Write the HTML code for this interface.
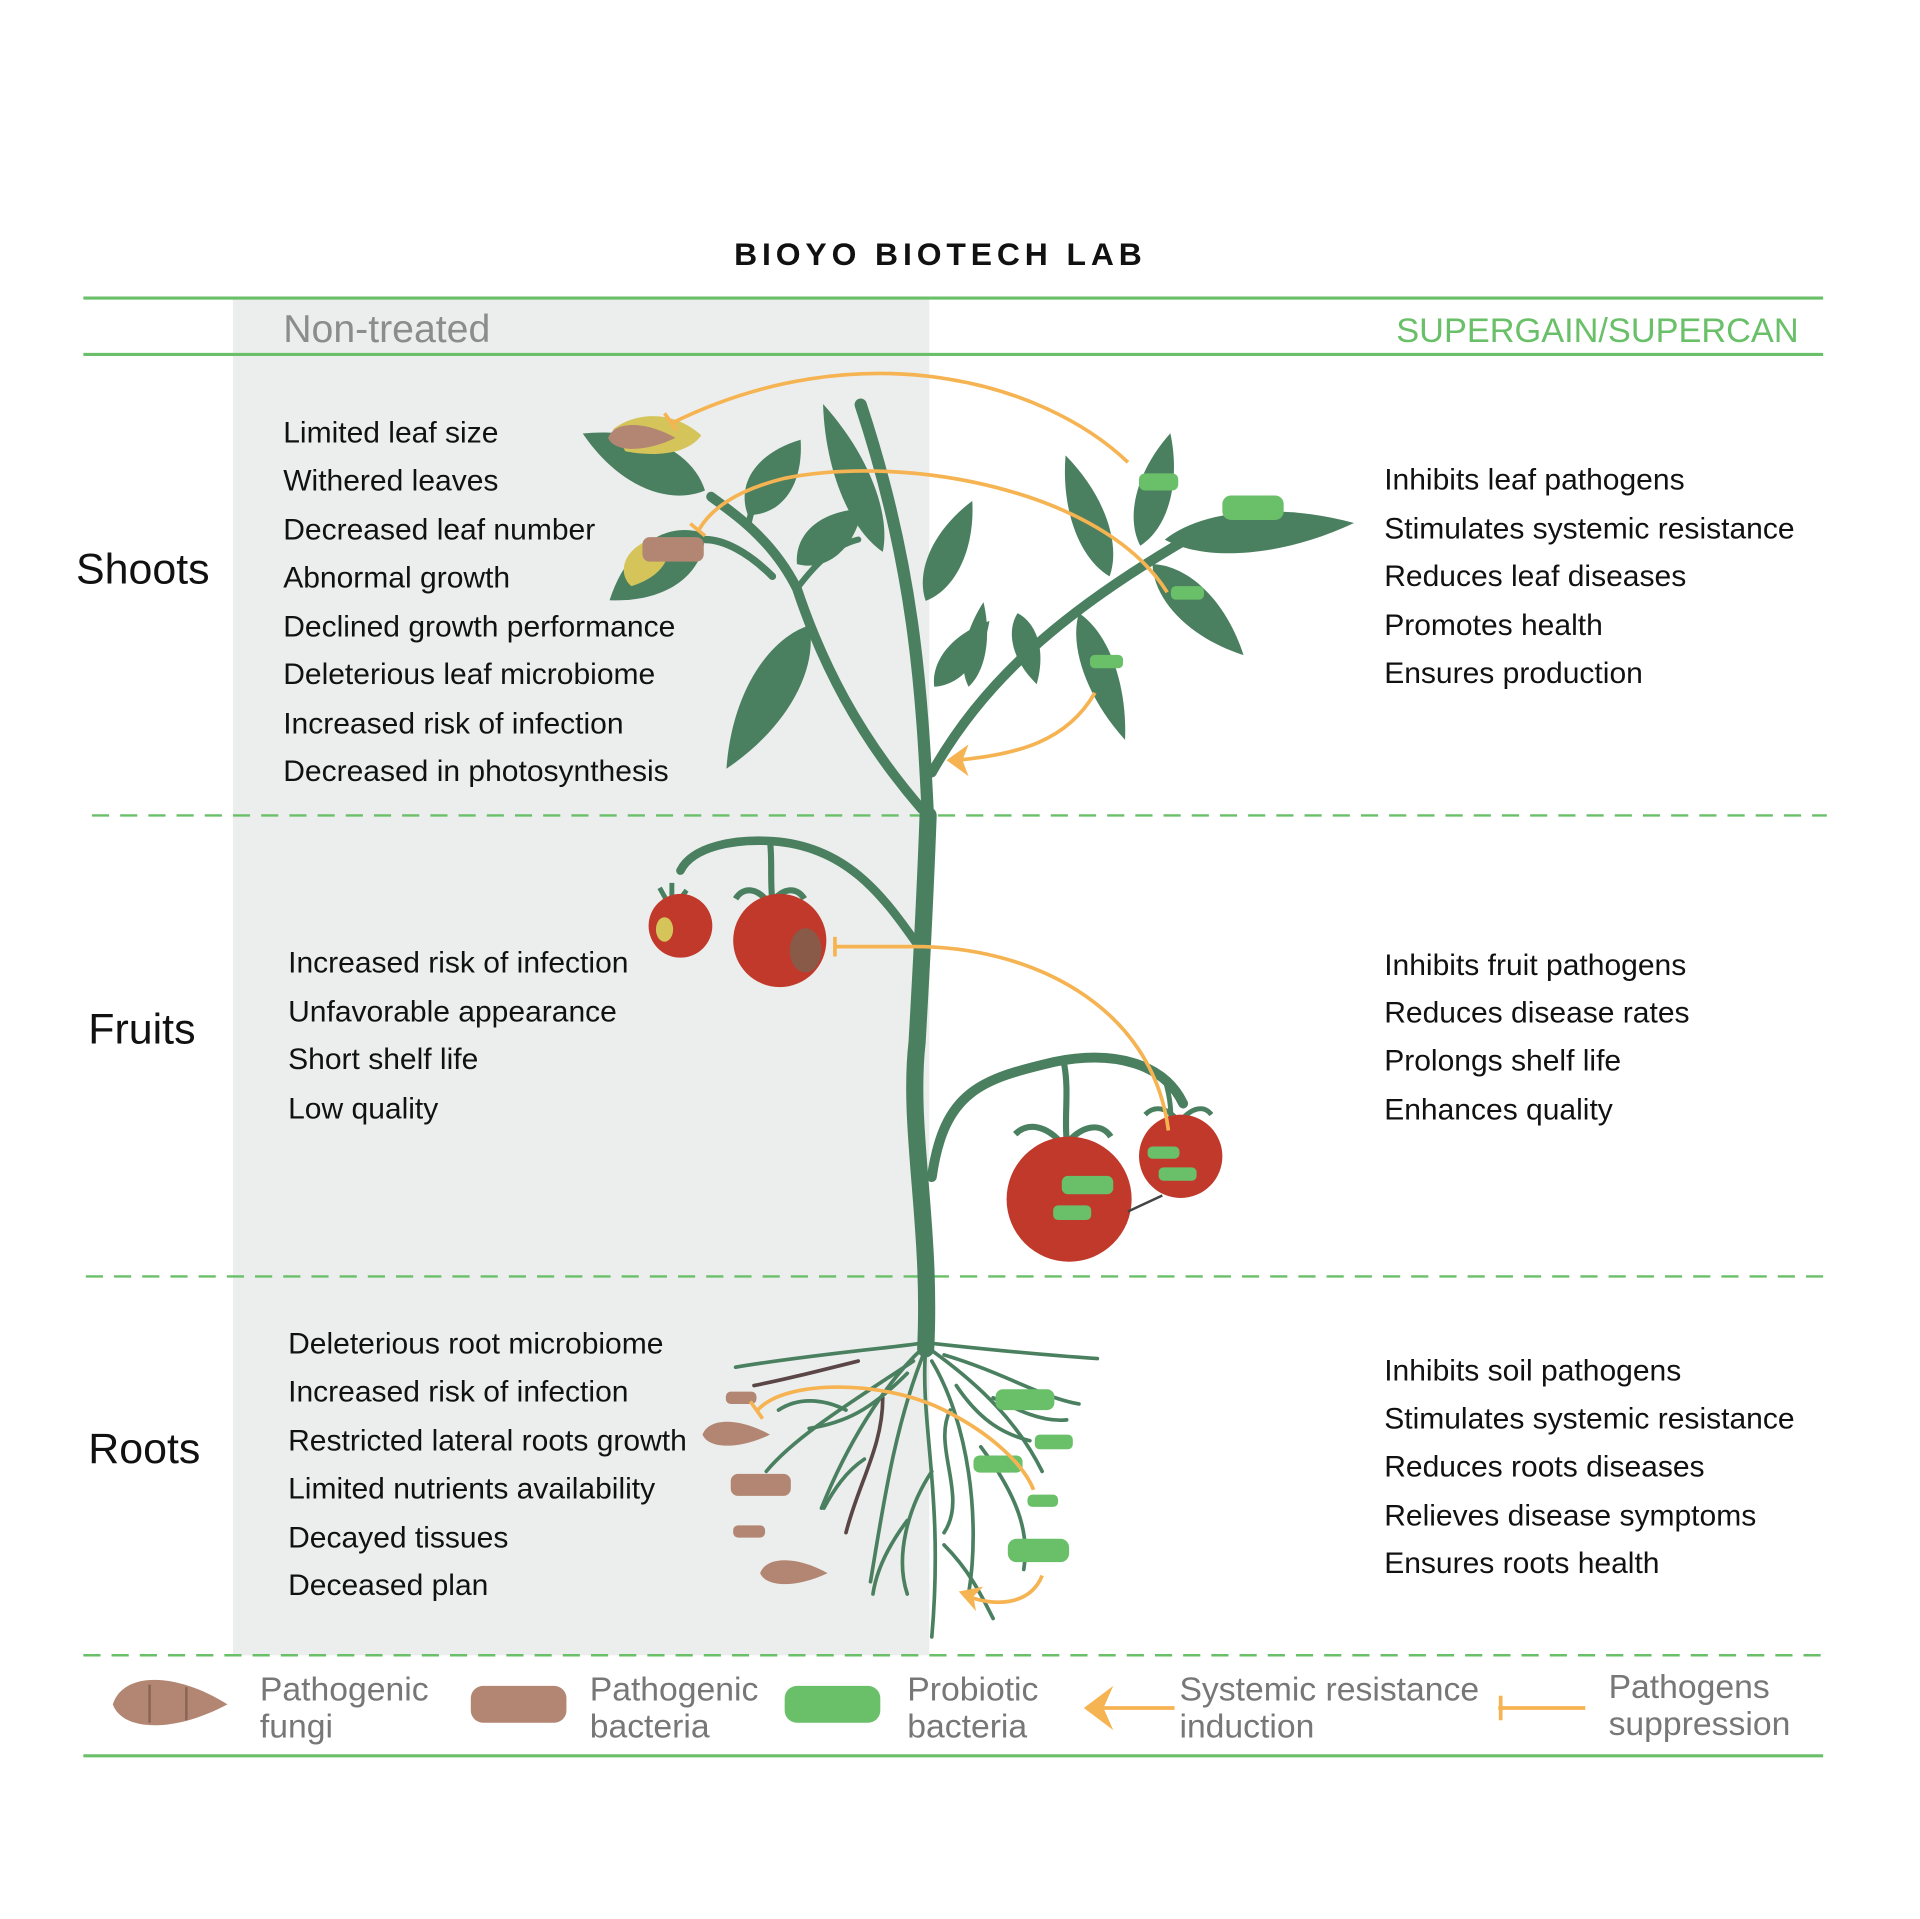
<!DOCTYPE html>
<html><head><meta charset="utf-8"><style>
html,body{margin:0;padding:0;background:#fff;}
svg{display:block;}
text{font-family:"Liberation Sans",sans-serif;}
</style></head><body>
<svg width="1920" height="1919" viewBox="0 0 1566 1565" xmlns="http://www.w3.org/2000/svg">
<defs>
<path id="lf" d="M0,0 C20,-22 60,-24 100,0 C60,24 20,22 0,0Z"/>
<path id="fg" d="M0,0 C5,-14 30,-14 55,0 C30,12 5,12 0,0Z"/>
</defs>
<rect x="190" y="243" width="568" height="1107" fill="#eceeed"/>
<text x="767" y="216" text-anchor="middle" font-size="26" font-weight="bold" letter-spacing="4" fill="#111">BIOYO BIOTECH LAB</text>
<line x1="68" y1="243" x2="1487" y2="243" stroke="#6abf69" stroke-width="2.5"/>
<line x1="68" y1="289" x2="1487" y2="289" stroke="#6abf69" stroke-width="2.5"/>
<line x1="68" y1="1432" x2="1487" y2="1432" stroke="#6abf69" stroke-width="2.5"/>
<g stroke="#6abf69" stroke-width="2" stroke-dasharray="14,9">
<line x1="75" y1="665" x2="1490" y2="665"/><line x1="70" y1="1041" x2="1490" y2="1041"/><line x1="68" y1="1350" x2="1487" y2="1350"/>
</g>
<text x="231" y="279" font-size="32" fill="#8c8c8c">Non-treated</text>
<text x="1467" y="279" text-anchor="end" font-size="28" fill="#6abf69">SUPERGAIN/SUPERCAN</text>
<g font-size="35" fill="#111"><text x="62" y="476">Shoots</text><text x="72" y="851">Fruits</text><text x="72" y="1193">Roots</text></g>
<g font-size="24.5" fill="#111">
<text x="231" y="361">Limited leaf size</text><text x="231" y="400">Withered leaves</text><text x="231" y="440">Decreased leaf number</text><text x="231" y="479">Abnormal growth</text><text x="231" y="519">Declined growth performance</text><text x="231" y="558">Deleterious leaf microbiome</text><text x="231" y="598">Increased risk of infection</text><text x="231" y="637">Decreased in photosynthesis</text>
<text x="235" y="793">Increased risk of infection</text><text x="235" y="833">Unfavorable appearance</text><text x="235" y="872">Short shelf life</text><text x="235" y="912">Low quality</text>
<text x="235" y="1104">Deleterious root microbiome</text><text x="235" y="1143">Increased risk of infection</text><text x="235" y="1183">Restricted lateral roots growth</text><text x="235" y="1222">Limited nutrients availability</text><text x="235" y="1262">Decayed tissues</text><text x="235" y="1301">Deceased plan</text>
<text x="1129" y="399">Inhibits leaf pathogens</text><text x="1129" y="439">Stimulates systemic resistance</text><text x="1129" y="478">Reduces leaf diseases</text><text x="1129" y="518">Promotes health</text><text x="1129" y="557">Ensures production</text>
<text x="1129" y="795">Inhibits fruit pathogens</text><text x="1129" y="834">Reduces disease rates</text><text x="1129" y="873">Prolongs shelf life</text><text x="1129" y="913">Enhances quality</text>
<text x="1129" y="1126">Inhibits soil pathogens</text><text x="1129" y="1165">Stimulates systemic resistance</text><text x="1129" y="1204">Reduces roots diseases</text><text x="1129" y="1244">Relieves disease symptoms</text><text x="1129" y="1283">Ensures roots health</text>
</g>
<g fill="none" stroke="#4a8060" stroke-linecap="round">
<path d="M755,1100 C760,1000 740,920 748,850 C752,780 755,720 757,665" stroke-width="14"/>
<path d="M757,670 C752,560 745,460 702,330" stroke-width="10"/>
<path d="M752,660 C700,600 670,540 650,480 C630,440 600,420 580,405" stroke-width="8"/>
<path d="M760,630 C800,560 860,500 985,430" stroke-width="8"/>
<path d="M748,770 C720,730 690,690 630,686 C600,684 565,690 555,710" stroke-width="7"/>
<path d="M628,686 C630,700 628,720 630,735" stroke-width="5"/>
<path d="M760,960 C770,890 800,880 860,866 C910,856 950,868 965,900" stroke-width="8"/>
<path d="M868,868 C872,890 868,910 870,930" stroke-width="5"/>
<path d="M950,880 C956,900 955,910 955,925" stroke-width="4"/>
<path d="M630,470 C610,450 590,440 575,440" stroke-width="6"/>
<path d="M650,480 C665,460 680,445 700,440" stroke-width="5"/>
<path d="M610,430 C615,400 630,385 650,375" stroke-width="5"/>
</g>
<g fill="#4a8060">
<use href="#lf" transform="translate(720,450) rotate(-112) scale(1.3,0.8)"/>
<use href="#lf" transform="translate(575,400) rotate(-155) scale(1.1,1.1)"/>
<use href="#lf" transform="translate(575,435) rotate(145) scale(0.95,1.2)"/>
<use href="#lf" transform="translate(610,420) rotate(-55) scale(0.75,1)"/>
<use href="#lf" transform="translate(650,460) rotate(-40) scale(0.7,0.9)"/>
<use href="#lf" transform="translate(660,510) rotate(120) scale(1.35,1.1)"/>
<use href="#lf" transform="translate(755,490) rotate(-65) scale(0.9,0.8)"/>
<use href="#lf" transform="translate(762,560) rotate(-50) scale(0.7,0.7)"/>
<use href="#lf" transform="translate(930,445) rotate(-75) scale(0.95,0.8)"/>
<use href="#lf" transform="translate(950,440) rotate(-5) scale(1.55,0.95)"/>
<use href="#lf" transform="translate(905,470) rotate(-110) scale(1.05,0.8)"/>
<use href="#lf" transform="translate(940,460) rotate(45) scale(1.05,0.9)"/>
<use href="#lf" transform="translate(880,500) rotate(70) scale(1.1,0.75)"/>
<use href="#lf" transform="translate(830,500) rotate(75) scale(0.6,0.6)"/>
<use href="#lf" transform="translate(790,560) rotate(-80) scale(0.7,0.5)"/>
<g transform="translate(548,742)"><path d="M0,0 l-10,-18 M0,0 l12,-16 M0,0 l0,-22" stroke="#4a8060" stroke-width="4"/></g>
<g transform="translate(628,738)"><path d="M0,0 c-10,-15 -22,-15 -28,-5 M0,0 c10,-15 22,-15 28,-5" stroke="#4a8060" stroke-width="5" fill="none"/></g>
<g transform="translate(868,935)"><path d="M0,0 c-14,-18 -30,-20 -40,-10 M0,0 c14,-18 30,-20 38,-8" stroke="#4a8060" stroke-width="5" fill="none"/></g>
<g transform="translate(962,915)"><path d="M0,0 c-10,-12 -20,-14 -28,-6 M0,0 c10,-12 20,-14 26,-6" stroke="#4a8060" stroke-width="4" fill="none"/></g>
</g>
<path d="M500,350 C520,335 550,335 572,355 C560,372 530,372 510,368Z" fill="#d5c45a"/>
<use href="#fg" transform="translate(496,357) scale(1)" fill="#b28672"/>
<path d="M530,440 C505,450 505,470 515,478 C540,470 548,455 545,440Z" fill="#d5c45a"/>
<rect x="524" y="438" width="50" height="20" rx="6" fill="#b28672"/>
<g fill="#6abf69">
<rect x="929" y="386" width="32" height="14" rx="5"/><rect x="997" y="404" width="50" height="20" rx="7"/><rect x="955" y="478" width="27" height="11" rx="4"/><rect x="889" y="534" width="27" height="11" rx="4"/>
</g>
<circle cx="555" cy="755" r="26" fill="#c0392b"/>
<ellipse cx="542" cy="758" rx="7" ry="10" fill="#d5c45a"/>
<circle cx="636" cy="767" r="38" fill="#c0392b"/>
<ellipse cx="657" cy="775" rx="13" ry="18" fill="#8a5a48"/>
<circle cx="872" cy="978" r="51" fill="#c0392b"/>
<circle cx="963" cy="943" r="34" fill="#c0392b"/>
<line x1="920" y1="988" x2="948" y2="975" stroke="#444" stroke-width="2"/>
<g fill="#6abf69"><rect x="866" y="959" width="42" height="15" rx="5"/><rect x="859" y="983" width="31" height="12" rx="4"/><rect x="936" y="935" width="26" height="10" rx="4"/><rect x="945" y="952" width="31" height="11" rx="4"/></g>
<g fill="none" stroke="#4a8060" stroke-width="3" stroke-linecap="round">
<path d="M755,1095 C720,1100 660,1105 600,1115"/><path d="M755,1095 C800,1100 850,1105 895,1108"/>
<path d="M752,1100 C720,1130 690,1180 670,1230"/><path d="M758,1100 C800,1130 830,1160 850,1200"/>
<path d="M755,1100 C750,1160 770,1220 760,1335"/><path d="M755,1100 C730,1160 720,1230 710,1290"/>
<path d="M760,1110 C790,1160 800,1240 790,1300"/><path d="M745,1110 C700,1140 650,1170 625,1200"/>
<path d="M770,1105 C820,1120 850,1140 880,1145"/><path d="M760,1200 C740,1230 730,1270 740,1300"/>
<path d="M800,1180 C830,1220 840,1250 835,1280"/><path d="M690,1150 C670,1140 650,1140 635,1150"/>
<path d="M720,1140 C720,1180 700,1210 690,1250" stroke="#5a4646"/><path d="M700,1110 C660,1120 640,1125 615,1130" stroke="#5a4646"/>
<path d="M780,1130 C800,1160 820,1170 840,1175"/><path d="M770,1260 C790,1280 800,1300 810,1320"/>
<path d="M740,1240 C725,1260 715,1280 712,1300"/>
<path d="M740,1120 C710,1150 690,1160 660,1165"/><path d="M775,1150 C760,1180 790,1220 770,1250"/>
<path d="M810,1140 C830,1150 850,1160 870,1158"/><path d="M705,1190 C690,1200 680,1215 672,1230"/>
</g>
<g fill="#6abf69"><rect x="812" y="1133" width="48" height="17" rx="6"/><rect x="844" y="1170" width="31" height="12" rx="4"/><rect x="794" y="1187" width="40" height="14" rx="5"/><rect x="838" y="1219" width="25" height="10" rx="4"/><rect x="822" y="1255" width="50" height="19" rx="7"/></g>
<g fill="#b28672"><rect x="592" y="1135" width="25" height="10" rx="4"/><rect x="596" y="1202" width="49" height="18" rx="6"/><rect x="598" y="1244" width="26" height="10" rx="4"/></g>
<use href="#fg" transform="translate(573,1170)" fill="#b28672"/>
<use href="#fg" transform="translate(620,1283)" fill="#b28672"/>
<g fill="none" stroke="#f6b352" stroke-width="3">
<path d="M920,377 C850,310 700,270 548,345"/><path d="M542,337 l10,14"/>
<path d="M952,483 C900,400 740,370 640,390 C600,400 580,415 570,432"/><path d="M563,427 l12,10"/>
<path d="M893,565 C870,605 830,615 780,620"/>
<path d="M680,772 L740,772 C840,770 940,820 953,922"/><path d="M681,764 v16"/>
<path d="M618,1150 C640,1125 720,1125 770,1150 C810,1170 835,1195 843,1215"/><path d="M612,1143 l10,14"/>
<path d="M850,1285 C840,1310 810,1310 790,1302"/>
<path d="M900,1393 H958"/><path d="M1222,1393 H1293"/><path d="M1224,1383 v20"/>
</g>
<g fill="#f6b352">
<path d="M772,620 l18,-13 l-5,13 l5,13Z"/><path d="M782,1298 l20,-4 l-8,8 l2,12Z"/>
<path d="M884,1393 l24,-18 l-8,18 l8,18Z"/>
</g>
<use href="#fg" transform="translate(92,1390) scale(1.7,1.9)" fill="#b28672"/>
<g stroke="#8a6454" stroke-width="2"><line x1="122" y1="1374" x2="122" y2="1405"/><line x1="152" y1="1376" x2="152" y2="1403"/></g>
<rect x="384" y="1375" width="78" height="30" rx="10" fill="#b28672"/>
<rect x="640" y="1375" width="78" height="30" rx="10" fill="#6abf69"/>
<g font-size="27.5" fill="#777">
<text x="212" y="1387">Pathogenic</text><text x="212" y="1417">fungi</text>
<text x="481" y="1387">Pathogenic</text><text x="481" y="1417">bacteria</text>
<text x="740" y="1387">Probiotic</text><text x="740" y="1417">bacteria</text>
<text x="962" y="1387">Systemic resistance</text><text x="962" y="1417">induction</text>
<text x="1312" y="1385">Pathogens</text><text x="1312" y="1415">suppression</text>
</g>
</svg>
</body></html>
